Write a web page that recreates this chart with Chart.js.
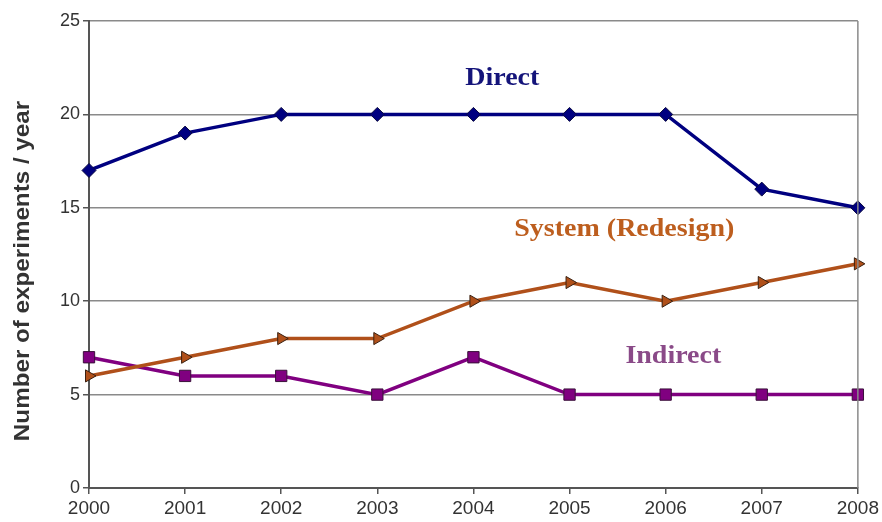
<!DOCTYPE html>
<html>
<head>
<meta charset="utf-8">
<script src="https://cdn.jsdelivr.net/npm/chart.js@4"></script>
<style>
  html, body { margin: 0; padding: 0; background: #fff; }
  #wrap { width: 882px; height: 522px; }
</style>
</head>
<body>
<div id="wrap"><canvas id="chart" width="882" height="522"></canvas></div>
<script>
var years = ["2000", "2001", "2002", "2003", "2004", "2005", "2006", "2007", "2008"];
var direct = [17, 19, 20, 20, 20, 20, 20, 16, 15];
var system = [6, 7, 8, 8, 10, 11, 10, 11, 12];
var indirect = [7, 6, 6, 5, 7, 5, 5, 5, 5];
var yTicks = [0, 5, 10, 15, 20, 25];

// text labels placed in data units (category index, value)
var seriesLabels = [
    { text: 'Direct', x: 4.3, y: 21.9, color: '#14147a' },
    { text: 'System (Redesign)', x: 5.57, y: 13.85, color: '#bd5e1e' },
    { text: 'Indirect', x: 6.08, y: 7.05, color: '#8a4a88' }
];

var labelPlugin = {
    id: 'labels',
    afterDatasetsDraw: function (chart) {
        var c = chart.ctx, xs = chart.scales.x, ys = chart.scales.y, a = chart.chartArea;
        c.save();
        // right border of the plot
        c.strokeStyle = '#8a8a8a';
        c.lineWidth = 1.5;
        c.beginPath();
        c.moveTo(a.right, a.top);
        c.lineTo(a.right, a.bottom);
        c.stroke();
        c.textAlign = 'center';
        c.textBaseline = 'middle';
        c.font = 'bold 25px "Liberation Serif", serif';
        seriesLabels.forEach(function (l) {
            c.save();
            c.translate(xs.getPixelForValue(l.x), ys.getPixelForValue(l.y));
            c.scale(1.12, 1);
            c.fillStyle = l.color;
            c.fillText(l.text, 0, 0);
            c.restore();
        });
        // y axis title
        c.translate(23, 271);
        c.rotate(-Math.PI / 2);
        c.scale(1.1, 1);
        c.font = 'bold 22px "Liberation Sans", sans-serif';
        c.fillStyle = '#333';
        c.fillText('Number of experiments / year', 0, 0);
        c.restore();
    }
};

var ctx = document.getElementById('chart').getContext('2d');
var chart = new Chart(ctx, {
    type: 'line',
    data: {
        labels: years,
        datasets: [{
            label: 'Direct',
            data: direct,
            borderColor: '#000080',
            backgroundColor: '#000080',
            borderWidth: 3.5,
            pointStyle: 'rectRot',
            pointRadius: 7,
            pointBorderColor: '#0a0a40',
            pointBorderWidth: 1,
            tension: 0
        }, {
            label: 'System (Redesign)',
            data: system,
            borderColor: '#b0501a',
            backgroundColor: '#b0501a',
            borderWidth: 3.5,
            pointStyle: 'triangle',
            rotation: 90,
            pointRadius: 7,
            pointBorderColor: '#3a2010',
            pointBorderWidth: 1,
            tension: 0
        }, {
            label: 'Indirect',
            data: indirect,
            borderColor: '#800080',
            backgroundColor: '#800080',
            borderWidth: 3.5,
            pointStyle: 'rect',
            pointRadius: 8,
            pointBorderColor: '#3a103a',
            pointBorderWidth: 1,
            tension: 0
        }]
    },
    options: {
        responsive: false,
        animation: false,
        layout: { padding: { left: 0, right: 23, top: 21, bottom: 0 } },
        plugins: {
            legend: { display: false },
            tooltip: { enabled: false }
        },
        scales: {
            x: {
                offset: false,
                grid: { display: true, drawOnChartArea: false, drawTicks: true, tickLength: 6, color: '#555', lineWidth: 1.5 },
                border: { display: true, color: '#555', width: 2 },
                ticks: { color: '#333', font: { family: '"Liberation Sans", sans-serif', size: 19 }, padding: 3, maxRotation: 0 },
                afterFit: function (s) { s.height = 34; }
            },
            y: {
                min: 0,
                max: 25,
                afterBuildTicks: function (s) { s.ticks = yTicks.map(function (v) { return { value: v }; }); },
                grid: { color: '#8a8a8a', lineWidth: 1.5, tickLength: 6, tickColor: '#555' },
                border: { display: true, color: '#555', width: 2 },
                ticks: { color: '#333', font: { family: '"Liberation Sans", sans-serif', size: 18 }, padding: 3 },
                afterFit: function (s) { s.width = 89; }
            }
        }
    },
    plugins: [labelPlugin]
});
</script>
</body>
</html>
